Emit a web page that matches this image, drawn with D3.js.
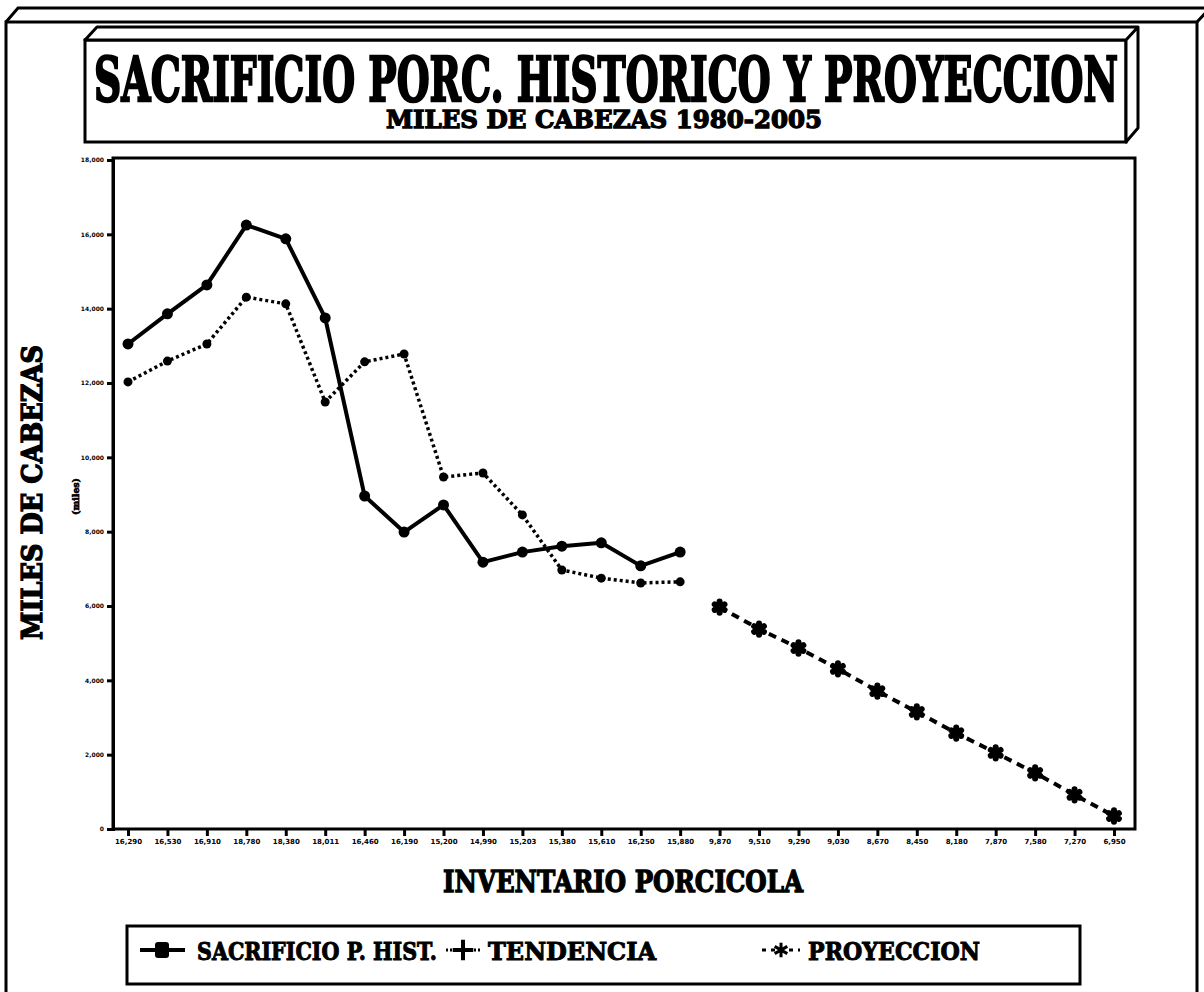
<!DOCTYPE html>
<html>
<head>
<meta charset="utf-8">
<script src="https://cdn.jsdelivr.net/npm/d3@7"></script>
<style>
  html, body { margin: 0; padding: 0; background: #fff; }
  svg { display: block; }
  .heavy { font-family: "DejaVu Serif", "Liberation Serif", serif; font-weight: bold; fill: #000; stroke: #000; }
</style>
</head>
<body>
<svg id="chart" width="1204" height="992"></svg>
<script>
// ---------------- DATA ----------------
const title = "SACRIFICIO PORC. HISTORICO Y PROYECCION";
const subtitle = "MILES DE CABEZAS 1980-2005";
const xTitle = "INVENTARIO PORCICOLA";
const yTitle = "MILES DE CABEZAS";
const yUnits = "(miles)";

// x-axis categories (inventario porcícola, 1980-2005) — labels estimated, illegible in source
const inventario = [
  "16,290", "16,530", "16,910", "18,780", "18,380", "18,011", "16,460", "16,190",
  "15,200", "14,990", "15,203", "15,380", "15,610", "16,250", "15,880",
  "9,870", "9,510", "9,290", "9,030", "8,670", "8,450", "8,180", "7,870", "7,580", "7,270", "6,950"
];

// series values (miles de cabezas)
const sacrificioHist = [13050, 13860, 14640, 16250, 15880, 13750, 8960, 7990, 8720, 7180, 7450, 7610, 7700, 7080, 7450];
const tendencia      = [12030, 12590, 13050, 14310, 14130, 11490, 12570, 12780, 9470, 9580, 8450, 6970, 6750, 6620, 6650];
const proyeccion     = [5970, 5380, 4870, 4310, 3710, 3150, 2580, 2050, 1510, 920, 350];

const yTicks = [0, 2000, 4000, 6000, 8000, 10000, 12000, 14000, 16000, 18000];

const legendLabels = ["SACRIFICIO P. HIST.", "TENDENCIA", "PROYECCION"];

// ---------------- DRAW ----------------
const svg = d3.select("#chart");

// outer 3D frame
svg.append("path")
  .attr("d", "M6,992 L6,22 L1197,22 L1197,992")
  .attr("fill", "none").attr("stroke", "#000").attr("stroke-width", 3);
svg.append("path")
  .attr("d", "M6,22 L18,8 L1210,8 M1197,22 L1210,8")
  .attr("fill", "none").attr("stroke", "#000").attr("stroke-width", 3);

// title 3D box
svg.append("rect").attr("x", 85).attr("y", 40).attr("width", 1041).attr("height", 102)
  .attr("fill", "#fff").attr("stroke", "#000").attr("stroke-width", 3);
svg.append("path")
  .attr("d", "M85,40 L97,27 L1138,27 L1126,40 Z M1126,40 L1138,27 L1138,128 L1126,142 Z")
  .attr("fill", "#fff").attr("stroke", "#000").attr("stroke-width", 3).attr("stroke-linejoin", "round");

svg.append("text").attr("class", "heavy")
  .attr("x", 94).attr("y", 101)
  .attr("font-size", 62).attr("stroke-width", 2.4)
  .attr("textLength", 1024).attr("lengthAdjust", "spacingAndGlyphs")
  .text(title);
svg.append("text").attr("class", "heavy")
  .attr("x", 386).attr("y", 128)
  .attr("font-size", 24).attr("stroke-width", 1.3)
  .attr("textLength", 436).attr("lengthAdjust", "spacingAndGlyphs")
  .text(subtitle);

// scales
const plotL = 113, plotR = 1135, plotT = 158, plotB = 829;
const x = d3.scalePoint().domain(inventario).range([128, 1114]);
const y = d3.scaleLinear().domain([0, 18000]).range([plotB, 160]);

// plot frame
svg.append("rect").attr("x", plotL).attr("y", plotT).attr("width", plotR - plotL).attr("height", plotB - plotT)
  .attr("fill", "none").attr("stroke", "#000").attr("stroke-width", 3);

// y axis
const yAxis = svg.append("g").attr("transform", `translate(${plotL},0)`)
  .call(d3.axisLeft(y).tickValues(yTicks).tickSize(6).tickPadding(3).tickFormat(d3.format(",")));
yAxis.select(".domain").attr("stroke-width", 3);
yAxis.selectAll(".tick line").attr("stroke-width", 3);
yAxis.selectAll(".tick text").attr("font-family", "DejaVu Sans").attr("font-weight", "bold").attr("font-size", 6);

// x axis
const xAxis = svg.append("g").attr("transform", `translate(0,${plotB})`)
  .call(d3.axisBottom(x).tickSize(7).tickPadding(3));
xAxis.select(".domain").remove();
xAxis.selectAll(".tick line").attr("stroke-width", 3);
xAxis.selectAll(".tick text").attr("font-family", "DejaVu Sans").attr("font-weight", "bold").attr("font-size", 7);

// axis titles
svg.append("text").attr("class", "heavy")
  .attr("x", 443).attr("y", 892)
  .attr("font-size", 29).attr("stroke-width", 1.3)
  .attr("textLength", 360).attr("lengthAdjust", "spacingAndGlyphs")
  .text(xTitle);
svg.append("text").attr("class", "heavy")
  .attr("transform", "translate(42,640) rotate(-90)")
  .attr("font-size", 27).attr("stroke-width", 1.3)
  .attr("textLength", 295).attr("lengthAdjust", "spacingAndGlyphs")
  .text(yTitle);
svg.append("text").attr("class", "heavy")
  .attr("transform", "translate(79,515) rotate(-90)")
  .attr("font-size", 9).attr("stroke-width", 0.6)
  .attr("textLength", 37).attr("lengthAdjust", "spacingAndGlyphs")
  .text(yUnits);

// lines
const line = d3.line().x(d => x(d.k)).y(d => y(d.v));
const histData = sacrificioHist.map((v, i) => ({ k: inventario[i], v }));
const tendData = tendencia.map((v, i) => ({ k: inventario[i], v }));
const projData = proyeccion.map((v, i) => ({ k: inventario[i + sacrificioHist.length], v }));

svg.append("path").datum(tendData).attr("d", line)
  .attr("fill", "none").attr("stroke", "#000").attr("stroke-width", 3.5)
  .attr("stroke-dasharray", "3,3");
svg.append("g").selectAll("circle").data(tendData).join("circle")
  .attr("cx", d => x(d.k)).attr("cy", d => y(d.v)).attr("r", 4.5).attr("fill", "#000");

svg.append("path").datum(histData).attr("d", line)
  .attr("fill", "none").attr("stroke", "#000").attr("stroke-width", 4).attr("stroke-linejoin", "round");
svg.append("g").selectAll("circle").data(histData).join("circle")
  .attr("cx", d => x(d.k)).attr("cy", d => y(d.v)).attr("r", 5.5).attr("fill", "#000");

svg.append("path").datum(projData).attr("d", line)
  .attr("fill", "none").attr("stroke", "#000").attr("stroke-width", 4)
  .attr("stroke-dasharray", "8,6");
const ast = d3.symbol().type(d3.symbolAsterisk).size(90);
svg.append("g").selectAll("path").data(projData).join("path")
  .attr("transform", d => `translate(${x(d.k)},${y(d.v)})`)
  .attr("d", ast).attr("fill", "none").attr("stroke", "#000").attr("stroke-width", 6)
  .attr("stroke-linecap", "round");

// legend
svg.append("rect").attr("x", 127).attr("y", 926).attr("width", 953).attr("height", 58)
  .attr("fill", "#fff").attr("stroke", "#000").attr("stroke-width", 3);
const ly = 950;
// item 1
svg.append("line").attr("x1", 140).attr("x2", 185).attr("y1", ly).attr("y2", ly)
  .attr("stroke", "#000").attr("stroke-width", 4);
svg.append("rect").attr("x", 155).attr("y", ly - 8).attr("width", 14).attr("height", 16).attr("rx", 3)
  .attr("fill", "#000");
svg.append("text").attr("class", "heavy").attr("x", 197).attr("y", 960)
  .attr("font-size", 25).attr("stroke-width", 1)
  .attr("textLength", 240).attr("lengthAdjust", "spacingAndGlyphs").text(legendLabels[0]);
// item 2
svg.append("line").attr("x1", 446).attr("x2", 482).attr("y1", ly).attr("y2", ly)
  .attr("stroke", "#000").attr("stroke-width", 3).attr("stroke-dasharray", "2,2");
svg.append("path").attr("transform", `translate(463,${ly})`)
  .attr("d", d3.symbol().type(d3.symbolPlus).size(140)).attr("fill", "none")
  .attr("stroke", "#000").attr("stroke-width", 4);
svg.append("text").attr("class", "heavy").attr("x", 488).attr("y", 960)
  .attr("font-size", 25).attr("stroke-width", 1)
  .attr("textLength", 168).attr("lengthAdjust", "spacingAndGlyphs").text(legendLabels[1]);
// item 3
svg.append("line").attr("x1", 762).attr("x2", 800).attr("y1", ly).attr("y2", ly)
  .attr("stroke", "#000").attr("stroke-width", 3).attr("stroke-dasharray", "4,5");
svg.append("path").attr("transform", `translate(781,${ly})`)
  .attr("d", d3.symbol().type(d3.symbolAsterisk).size(150)).attr("fill", "none")
  .attr("stroke", "#000").attr("stroke-width", 3);
svg.append("text").attr("class", "heavy").attr("x", 808).attr("y", 960)
  .attr("font-size", 25).attr("stroke-width", 1)
  .attr("textLength", 172).attr("lengthAdjust", "spacingAndGlyphs").text(legendLabels[2]);
</script>
</body>
</html>
